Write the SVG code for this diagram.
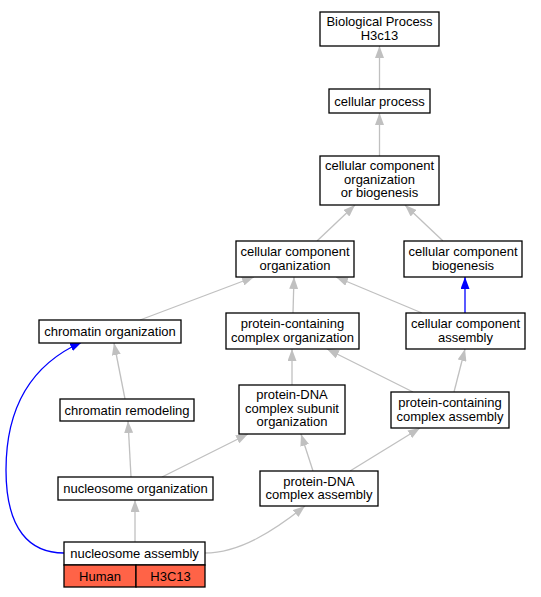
<svg xmlns="http://www.w3.org/2000/svg" width="541" height="597" viewBox="0 0 541 597">
<style>
.n rect{fill:#fff;stroke:#000;stroke-width:1.3}
.n rect.h{fill:#ff6347}
.n text{font-family:"Liberation Sans",Arial,sans-serif;font-size:13px;text-anchor:middle;fill:#000}
.e{fill:none;stroke:#c0c0c0;stroke-width:1.3;marker-end:url(#ag)}
.b{fill:none;stroke:#0000ff;stroke-width:1.3;marker-end:url(#ab)}
</style>
<defs>
<marker id="ag" viewBox="0 0 12 9" refX="12" refY="4.5" markerWidth="12" markerHeight="9" markerUnits="userSpaceOnUse" orient="auto"><path d="M0,0L12,4.5L0,9z" fill="#c0c0c0"/></marker>
<marker id="ab" viewBox="0 0 12 9" refX="12" refY="4.5" markerWidth="12" markerHeight="9" markerUnits="userSpaceOnUse" orient="auto"><path d="M0,0L12,4.5L0,9z" fill="#0000ff"/></marker>
</defs>
<rect width="541" height="597" fill="#fff"/>
<g id="connectors">
<path class="e" d="M379.5,89L379.5,46"/>
<path class="e" d="M379.5,156L379.5,113"/>
<path class="e" d="M317,241L355,205"/>
<path class="e" d="M443,241L405,205"/>
<path class="e" d="M293,313L294,277"/>
<path class="e" d="M422,313L336,277"/>
<path class="b" d="M465,313L465,277"/>
<path class="e" d="M140,320L254,277"/>
<path class="e" d="M125,399L114,343"/>
<path class="e" d="M413,392L327,349"/>
<path class="e" d="M454,392L465,349"/>
<path class="e" d="M292,385L292,349"/>
<path class="e" d="M131,477L128,421"/>
<path class="e" d="M162,477L248,434"/>
<path class="e" d="M313,471L301,434"/>
<path class="e" d="M350,471L420,428"/>
<path class="e" d="M135,542L135,500"/>
<path class="e" d="M205,553C240,553 275,530 305,506"/>
<path class="b" d="M64,553C30,553 6,530 6,470C6,410 30,365 82,342"/>
</g>
<g id="n1" class="n"><rect x="320" y="12" width="119" height="34"/><text x="379.5" y="26">Biological Process</text><text x="379.5" y="40">H3c13</text></g>
<g id="n2" class="n"><rect x="329" y="89" width="101" height="24"/><text x="379.5" y="105.5">cellular process</text></g>
<g id="n3" class="n"><rect x="320" y="156" width="119" height="49"/><text x="379.5" y="170">cellular component</text><text x="379.5" y="183.5">organization</text><text x="379.5" y="197">or biogenesis</text></g>
<g id="n4" class="n"><rect x="236" y="241" width="118" height="36"/><text x="295" y="256">cellular component</text><text x="295" y="269.5">organization</text></g>
<g id="n5" class="n"><rect x="404" y="241" width="118" height="36"/><text x="463" y="256">cellular component</text><text x="463" y="269.5">biogenesis</text></g>
<g id="n6" class="n"><rect x="226" y="313" width="133" height="36"/><text x="292.5" y="328">protein-containing</text><text x="292.5" y="341.5">complex organization</text></g>
<g id="n7" class="n"><rect x="406" y="313" width="119" height="36"/><text x="465.5" y="328">cellular component</text><text x="465.5" y="341.5">assembly</text></g>
<g id="n8" class="n"><rect x="39" y="320" width="142" height="23"/><text x="110" y="336">chromatin organization</text></g>
<g id="n9" class="n"><rect x="60" y="399" width="134" height="22"/><text x="127" y="414.5">chromatin remodeling</text></g>
<g id="n10" class="n"><rect x="239" y="385" width="106" height="49"/><text x="292" y="399">protein-DNA</text><text x="292" y="412.5">complex subunit</text><text x="292" y="426">organization</text></g>
<g id="n11" class="n"><rect x="391" y="392" width="118" height="36"/><text x="450" y="407">protein-containing</text><text x="450" y="420.5">complex assembly</text></g>
<g id="n12" class="n"><rect x="260" y="471" width="118" height="35"/><text x="319" y="485.5">protein-DNA</text><text x="319" y="499">complex assembly</text></g>
<g id="n13" class="n"><rect x="58" y="477" width="155" height="23"/><text x="135.5" y="493">nucleosome organization</text></g>
<g id="n14" class="n"><rect x="64" y="542" width="141" height="23"/><text x="134.5" y="558">nucleosome assembly</text>
<rect class="h" x="64" y="565" width="72" height="22"/><rect class="h" x="136" y="565" width="69" height="22"/>
<text x="100" y="580.5">Human</text><text x="170.5" y="580.5">H3C13</text></g>
</svg>
